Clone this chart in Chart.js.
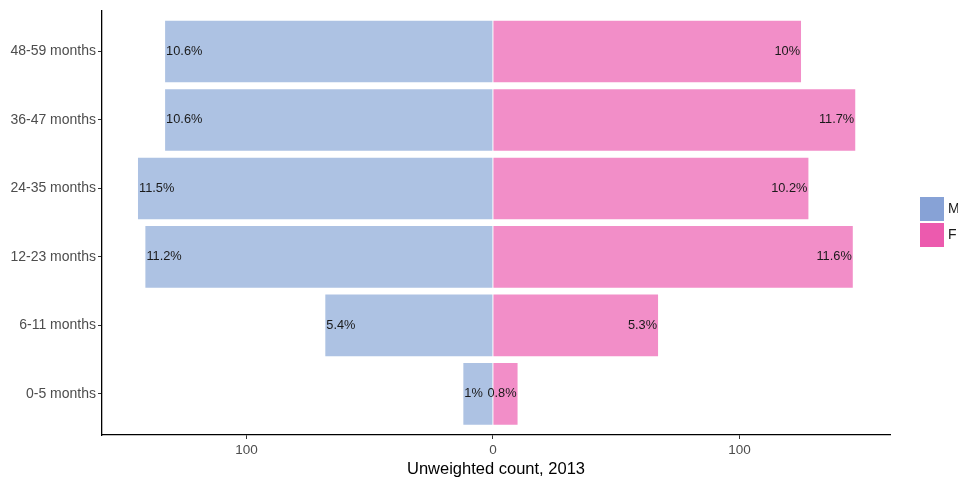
<!DOCTYPE html>
<html>
<head>
<meta charset="utf-8">
<script src="https://cdn.jsdelivr.net/npm/chart.js@4/dist/chart.umd.min.js"></script>
<style>
  html, body { margin: 0; padding: 0; background: #fff; }
  #wrap { width: 958px; height: 480px; }
</style>
</head>
<body>
<div id="wrap"><canvas id="pyramid"></canvas></div>
<script>
// age groups, bottom to top (y position 1..6)
const ageGroups = ['0-5 months', '6-11 months', '12-23 months', '24-35 months', '36-47 months', '48-59 months'];
const maleCounts = [12, 68, 141, 144, 133, 133];
const femaleCounts = [10, 67, 146, 128, 147, 125];
const malePct = ['1%', '5.4%', '11.2%', '11.5%', '10.6%', '10.6%'];
const femalePct = ['0.8%', '5.3%', '11.6%', '10.2%', '11.7%', '10%'];
const xTicks = [-100, 0, 100];

const FONT = 'Liberation Sans, Arial, sans-serif';

// percent labels at the outer end of each bar
const barLabels = {
  id: 'barLabels',
  afterDatasetsDraw(chart) {
    const ctx = chart.ctx;
    ctx.save();
    ctx.font = '12.8px ' + FONT;
    ctx.fillStyle = '#1a1a1a';
    ctx.textBaseline = 'middle';
    chart.data.datasets.forEach((ds, i) => {
      const meta = chart.getDatasetMeta(i);
      const texts = i === 0 ? malePct : femalePct;
      meta.data.forEach((bar, j) => {
        if (i === 0) {
          ctx.textAlign = 'left';
          ctx.fillText(texts[j], bar.x + 1, bar.y);
        } else {
          ctx.textAlign = 'right';
          ctx.fillText(texts[j], bar.x - 1, bar.y);
        }
      });
    });
    ctx.restore();
  }
};

// ggplot style legend on the right
const sideLegend = {
  id: 'sideLegend',
  afterDraw(chart) {
    const ctx = chart.ctx;
    const items = [['M', '#87a2d6'], ['F', '#ec5aae']];
    ctx.save();
    ctx.font = '14px ' + FONT;
    ctx.textBaseline = 'middle';
    ctx.textAlign = 'left';
    items.forEach(([name, col], k) => {
      const y = 197 + k * 26;
      ctx.fillStyle = col;
      ctx.fillRect(920, y, 24, 24);
      ctx.fillStyle = '#1a1a1a';
      ctx.fillText(name, 948, y + 12);
    });
    ctx.restore();
  }
};

const mk = (vals, sign) => vals.map((v, i) => ({ x: sign * v, y: i + 1 }));

new Chart(document.getElementById('pyramid'), {
  type: 'bar',
  data: {
    datasets: [
      { label: 'M', data: mk(maleCounts, -1), backgroundColor: '#adc2e3', barPercentage: 0.9, categoryPercentage: 1 },
      { label: 'F', data: mk(femaleCounts, 1), backgroundColor: '#f28ec8', barPercentage: 0.9, categoryPercentage: 1 }
    ]
  },
  options: {
    indexAxis: 'y',
    responsive: true,
    maintainAspectRatio: false,
    animation: false,
    layout: { padding: { top: 8, right: 68, left: 0, bottom: 0 } },
    plugins: {
      legend: { display: false },
      tooltip: { enabled: false }
    },
    scales: {
      x: {
        type: 'linear',
        stacked: true,
        min: -158.6,
        max: 161.1,
        afterBuildTicks: s => { s.ticks = xTicks.map(v => ({ value: v })); },
        afterFit: s => { s.height = 45; },
        ticks: {
          color: '#4d4d4d',
          font: { family: FONT, size: 13.5 },
          padding: 3,
          callback: v => Math.abs(v)
        },
        grid: { drawOnChartArea: false, drawTicks: true, tickLength: 4, color: '#333' },
        border: { display: true, color: '#000', width: 1.3 },
        title: {
          display: true,
          text: 'Unweighted count, 2013',
          color: '#000',
          font: { family: FONT, size: 16.5 },
          padding: { top: 0, bottom: 1 }
        }
      },
      y: {
        type: 'linear',
        stacked: true,
        offset: false,
        min: 0.4,
        max: 6.6,
        afterBuildTicks: s => { s.ticks = ageGroups.map((g, i) => ({ value: i + 1 })); },
        afterFit: s => { s.width = 102; },
        ticks: {
          color: '#4d4d4d',
          font: { family: FONT, size: 14 },
          padding: 2,
          callback: v => ageGroups[v - 1]
        },
        grid: { offset: false, drawOnChartArea: false, drawTicks: true, tickLength: 4, color: '#333' },
        border: { display: true, color: '#000', width: 1.3 }
      }
    }
  },
  plugins: [barLabels, sideLegend]
});
</script>
</body>
</html>
